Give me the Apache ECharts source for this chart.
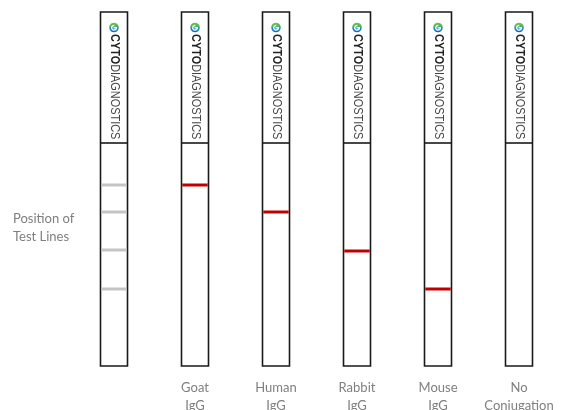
<!DOCTYPE html>
<html>
<head>
<meta charset="utf-8">
<script src="https://cdn.jsdelivr.net/npm/echarts@6/dist/echarts.min.js"></script>
<style>
html,body{margin:0;padding:0;background:#fff;}
#c{width:561px;height:410px;}
</style>
</head>
<body>
<div id="c"></div>
<script>
// Strip categories (first strip = reference positions)
const categories = ['', 'Goat\nIgG', 'Human\nIgG', 'Rabbit\nIgG', 'Mouse\nIgG', 'No\nConjugation'];
// Positions along the strip (0 = top of strip, 354 = bottom)
const stripStart = 0;
const stripEnd = 354;
const windowStart = 131;
// Reference test line positions (grey, first strip)
const referencePositions = [173, 200, 238, 277];
// Conjugated antibody test line positions per strip (null = no line)
const conjugatePositions = [null, 173, 200, 239, 277, null];
const brandBold = 'CYTO';
const brandLight = 'DIAGNOSTICS';
const sideLabel = 'Position of\nTest Lines';

const chart = echarts.init(document.getElementById('c'), null, {renderer: 'canvas'});
const stripFrac = 27 / 81;

function stripRender(params, api) {
  const idx = api.value(0);
  const top = api.coord([idx, stripStart]);
  const bot = api.coord([idx, stripEnd]);
  const win = api.coord([idx, windowStart]);
  const w = api.size([1, 0])[0] * stripFrac;
  const x0 = top[0] - w / 2;
  const cx = top[0];
  const iconY = top[1] + 15.5;
  return {
    type: 'group',
    children: [
      {type: 'rect', shape: {x: x0, y: top[1], width: w, height: bot[1] - top[1]},
        style: {fill: '#fff', stroke: '#1a1a1a', lineWidth: 1.6}},
      {type: 'line', shape: {x1: x0, y1: win[1], x2: x0 + w, y2: win[1]},
        style: {stroke: '#1a1a1a', lineWidth: 1.6}},
      {type: 'circle', shape: {cx: cx, cy: iconY, r: 4.8},
        style: {fill: new echarts.graphic.LinearGradient(0, 0, 0, 1, [
          {offset: 0, color: '#7cc242'}, {offset: 0.45, color: '#3db36b'}, {offset: 0.55, color: '#1f8fd6'}, {offset: 1, color: '#1560b8'}])}},
      {type: 'arc', shape: {cx: cx, cy: iconY + 0.3, r: 2.3, startAngle: -Math.PI * 0.1, endAngle: Math.PI * 1.55},
        style: {stroke: '#fff', lineWidth: 1.3, fill: null}},
      {type: 'line', shape: {x1: cx - 0.5, y1: iconY + 0.3, x2: cx + 3, y2: iconY + 0.3},
        style: {stroke: '#fff', lineWidth: 1.3}},
      {type: 'text', x: cx, y: top[1] + 22, rotation: -Math.PI / 2, scaleX: 0.91,
        style: {
          text: '{b|' + brandBold + '}{l|' + brandLight + '}',
          align: 'left', verticalAlign: 'middle',
          rich: {
            b: {fontFamily: 'Liberation Sans, Arial, sans-serif', fontWeight: 'bold', fontSize: 12, fill: '#222'},
            l: {fontFamily: 'Liberation Sans, Arial, sans-serif', fontWeight: 'normal', fontSize: 12, fill: '#444'}
          }
        }}
    ]
  };
}

function lineRender(color) {
  return function (params, api) {
    const idx = api.value(0);
    const p = api.coord([idx, api.value(1)]);
    const w = api.size([1, 0])[0] * stripFrac;
    return {type: 'rect', shape: {x: p[0] - w / 2 + 0.8, y: p[1] - 1.5, width: w - 1.6, height: 3},
      style: {fill: color}};
  };
}

const stripData = categories.map((c, i) => [i]);
const refData = referencePositions.map(v => [0, v]);
const conjData = [];
conjugatePositions.forEach((v, i) => { if (v !== null) conjData.push([i, v]); });

chart.setOption({
  animation: false,
  backgroundColor: '#fff',
  title: {
    text: sideLabel, left: 13, top: 210, padding: 0,
    textStyle: {fontFamily: 'Lato, sans-serif', fontWeight: 'normal', fontSize: 13, color: '#7f7f7f', lineHeight: 18}
  },
  grid: {left: 73.5, right: 1.5, top: 12, bottom: 44, containLabel: false, outerBoundsMode: 'none'},
  xAxis: {
    type: 'category', data: categories, boundaryGap: true,
    axisLine: {show: false}, axisTick: {show: false}, splitLine: {show: false},
    axisLabel: {interval: 0, margin: 13, fontFamily: 'Lato, sans-serif', fontSize: 13, color: '#7f7f7f', lineHeight: 18}
  },
  yAxis: {type: 'value', inverse: true, min: stripStart, max: stripEnd, show: false},
  series: [
    {type: 'custom', renderItem: stripRender, data: stripData, encode: {x: 0}, z: 1},
    {type: 'custom', renderItem: lineRender('#c4c4c4'), data: refData, encode: {x: 0, y: 1}, z: 2},
    {type: 'custom', renderItem: lineRender('#c00000'), data: conjData, encode: {x: 0, y: 1}, z: 2}
  ]
});
</script>
</body>
</html>
